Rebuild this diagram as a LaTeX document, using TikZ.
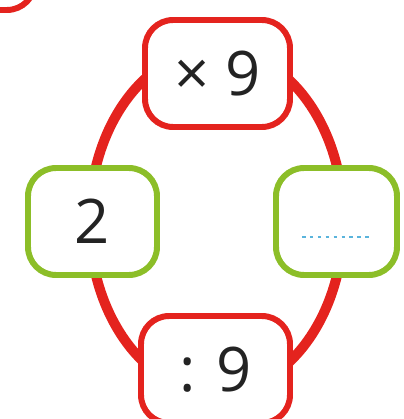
\documentclass[tikz,border=0pt]{standalone}
\usepackage{fontspec}
\setmainfont{Open Sans}
\usepackage{tikz}
\usetikzlibrary{calc}
\definecolor{ringred}{RGB}{228,35,30}
\definecolor{boxgreen}{RGB}{140,190,40}
\definecolor{blankblue}{RGB}{90,180,220}
\definecolor{inkgrey}{RGB}{35,35,35}
\tikzset{
    opbox/.style={draw=ringred, line width=3.4pt, rounded corners=16pt, fill=white,
        minimum height=107*0.02cm, inner sep=0pt, text=inkgrey},
    numbox/.style={draw=boxgreen, line width=3.4pt, rounded corners=16pt, fill=white,
        minimum height=107*0.02cm, inner sep=0pt, text=inkgrey},
    ringline/.style={draw=ringred, line width=5.7pt},
    blankline/.style={draw=blankblue, line width=1.4pt, dash pattern=on 2pt off 2.5pt}
}

\begin{document}
\begin{tikzpicture}[x=0.02cm, y=-0.02cm, font=\fontsize{35}{40}\selectfont]
        \useasboundingbox (0,0) rectangle (404,419);

        % ring behind the boxes
        \coordinate (ring) at (216.5,221);
        \draw[ringline] (ring) ellipse [x radius=127, y radius=172];

        % corner of the exercise badge, cut off by the page
        \node[opbox, minimum width=150*0.02cm, minimum height=110*0.02cm] (badge) at (-40,-45) {};

        \node[opbox, minimum width=145*0.02cm] (times) at (217.5,73.5) {× 9};
        \node[opbox, minimum width=149*0.02cm] (divide) at (215.5,369.5) {: 9};

        \node[numbox, minimum width=129*0.02cm] (start) at (92.5,221.5) {2};
        \node[numbox, minimum width=121*0.02cm] (result) at (336.5,221.5) {};

        % blank for the answer
        \draw[blankline] ($(result.center)+(-34.5,15.5)$) -- ($(result.center)+(36.5,15.5)$);
\end{tikzpicture}
\end{document}
